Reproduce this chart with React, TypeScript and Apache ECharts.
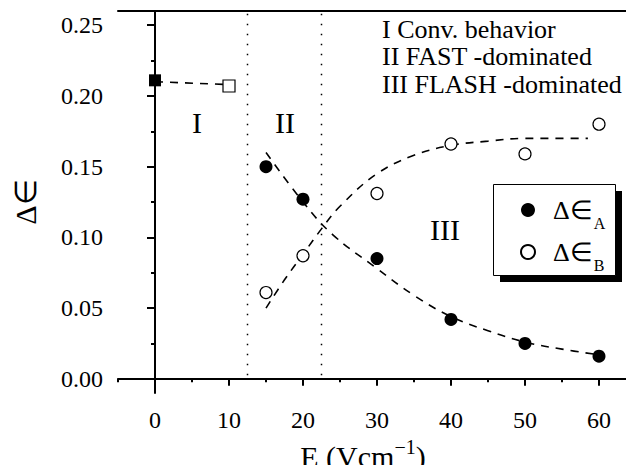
import React, { useEffect, useRef } from "react";
import * as echarts from "echarts";

// ---- data ----
const squareFilled = [[0, 0.211]];
const squareOpen = [[10, 0.207]];
const fitIx = [0, 10];
const fitIy = [0.210, 0.208];
const fieldE = [15, 20, 30, 40, 50, 60];
const deltaA = [0.150, 0.127, 0.085, 0.042, 0.025, 0.016];
const deltaB = [0.061, 0.087, 0.131, 0.166, 0.159, 0.180];
const fitAx = [15, 20, 24, 30, 35, 40, 45, 50, 55, 60];
const fitAy = [0.160, 0.125, 0.102, 0.078, 0.059, 0.044, 0.034, 0.026, 0.021, 0.017];
const fitBx = [15, 17.5, 20, 22.5, 25, 30, 35, 40, 45, 50, 58.5];
const fitBy = [0.050, 0.070, 0.088, 0.106, 0.122, 0.145, 0.158, 0.165, 0.168, 0.170, 0.170];
const boundaries = [12.5, 22.5];
const boundaryY = [0.258, -0.003];
const xLabels = [0, 10, 20, 30, 40, 50, 60];
const xMinor = [-5, 5, 15, 25, 35, 45, 55];
const yLabels = [0, 0.05, 0.1, 0.15, 0.2, 0.25];
const yMinor = [0.025, 0.075, 0.125, 0.175, 0.225];
const regionNotes = ["I Conv. behavior", "II FAST -dominated", "III FLASH -dominated"];
const seriesNames = ["Δ∈A", "Δ∈B"];

const FONT = "Liberation Serif";
const X_MIN = -5, X_MAX = 65, Y_MIN = -0.01, Y_MAX = 0.26;

const zip = (xs: number[], ys: number[]) => xs.map((x, i) => [x, ys[i]]);

export default function App() {
  const ref = useRef<HTMLDivElement>(null);
  useEffect(() => {
    document.body.style.margin = "0";
    const chart = echarts.init(ref.current!, undefined, { renderer: "svg" });
    const axisLine = { show: true, lineStyle: { color: "#000", width: 2 } };
    const dashed = { color: "#000", width: 1.6, type: [8, 7] as any };
    const dotted = { color: "#000", width: 1.5, type: [1.5, 8.5] as any };
    const option: any = {
      animation: false,
      backgroundColor: "#fff",
      textStyle: { fontFamily: FONT, color: "#000" },
      grid: { left: 118, top: 11, right: -10, bottom: 72, containLabel: false, outerBoundsMode: "none" },
      xAxis: [
        {
          type: "value", min: X_MIN, max: X_MAX, position: "bottom",
          axisLine, splitLine: { show: false },
          axisTick: { show: true, inside: false, length: 7, lineStyle: { color: "#000", width: 2 }, customValues: xLabels },
          axisLabel: { customValues: xLabels, formatter: (v: number) => String(v), color: "#000", fontFamily: FONT, fontSize: 24, margin: 15 },
          name: "{a|E (Vcm}{s|−1}{a|)}", nameLocation: "middle", nameGap: 30,
          nameTextStyle: {
            fontFamily: FONT,
            padding: [0, 28, 0, 0],
            rich: {
              a: { fontFamily: FONT, fontSize: 30, color: "#000" },
              s: { fontFamily: FONT, fontSize: 20, color: "#000", padding: [0, 0, 20, 0] },
            },
          },
        },
        {
          type: "value", min: X_MIN, max: X_MAX, position: "bottom",
          axisLine: { show: false }, splitLine: { show: false },
          axisTick: { show: true, length: 3.5, lineStyle: { color: "#000", width: 2 }, customValues: xMinor },
          axisLabel: { show: false },
        },
        {
          type: "value", min: X_MIN, max: X_MAX, position: "top",
          axisLine, splitLine: { show: false }, axisTick: { show: false }, axisLabel: { show: false },
        },
      ],
      yAxis: [
        {
          type: "value", min: Y_MIN, max: Y_MAX, position: "left",
          axisLine, splitLine: { show: false },
          axisTick: { show: true, length: 8, lineStyle: { color: "#000", width: 2 }, customValues: yLabels },
          axisLabel: { customValues: yLabels, formatter: (v: number) => v.toFixed(2), color: "#000", fontFamily: FONT, fontSize: 24, margin: 15 },
          name: "Δ∈", nameLocation: "middle", nameGap: 78, nameRotate: 90,
          nameTextStyle: { fontFamily: FONT, fontSize: 30, color: "#000" },
        },
        {
          type: "value", min: Y_MIN, max: Y_MAX, position: "left",
          axisLine: { show: false }, splitLine: { show: false },
          axisTick: { show: true, length: 4, lineStyle: { color: "#000", width: 2 }, customValues: yMinor },
          axisLabel: { show: false },
        },
      ],
      legend: {
        orient: "vertical", left: 515, top: 192, padding: 5, itemGap: 8,
        itemWidth: 14, itemHeight: 14, data: seriesNames,
        formatter: (name: string) => `{a|Δ∈}{s|${name.slice(-1)}}`,
        textStyle: {
          fontFamily: FONT,
          rich: {
            a: { fontFamily: FONT, fontSize: 26, color: "#000", padding: [0, 0, 0, 13] },
            s: { fontFamily: FONT, fontSize: 16, color: "#000", padding: [26, 0, 0, 1] },
          },
        },
      },
      graphic: [
        { type: "rect", shape: { x: 500, y: 191, width: 122, height: 91 }, style: { fill: "#000" }, z: 0 },
        { type: "rect", shape: { x: 493.5, y: 184.5, width: 122, height: 91 }, style: { fill: "#fff", stroke: "#000", lineWidth: 1 }, z: 1 },
        { type: "text", x: 197, y: 122, style: { text: "I", font: `30px ${FONT}`, fill: "#000", align: "center", verticalAlign: "middle" } },
        { type: "text", x: 285, y: 122, style: { text: "II", font: `30px ${FONT}`, fill: "#000", align: "center", verticalAlign: "middle" } },
        { type: "text", x: 445, y: 229, style: { text: "III", font: `30px ${FONT}`, fill: "#000", align: "center", verticalAlign: "middle" } },
        ...regionNotes.map((t, i) => ({
          type: "text", x: 382, y: 29 + i * 27.5,
          style: { text: t, font: `26px ${FONT}`, fill: "#000", align: "left", verticalAlign: "middle" },
        })),
      ],
      series: [
        ...boundaries.map((b) => ({
          type: "line", data: boundaryY.map((y) => [b, y]), symbol: "none", silent: true,
          lineStyle: dotted, z: 1,
        })),
        { type: "line", data: zip(fitIx, fitIy), symbol: "none", lineStyle: dashed, z: 1 },
        { type: "line", data: zip(fitAx, fitAy), symbol: "none", smooth: 0.4, lineStyle: dashed, z: 1 },
        { type: "line", data: zip(fitBx, fitBy), symbol: "none", smooth: 0.4, lineStyle: dashed, z: 1 },
        { type: "scatter", data: squareFilled, symbol: "rect", symbolSize: 12, itemStyle: { color: "#000", opacity: 1 }, z: 3 },
        { type: "scatter", data: squareOpen, symbol: "rect", symbolSize: 12, itemStyle: { color: "#fff", borderColor: "#000", borderWidth: 1.2, opacity: 1 }, z: 3 },
        { name: seriesNames[0], type: "scatter", data: zip(fieldE, deltaA), symbol: "circle", symbolSize: 13, itemStyle: { color: "#000", opacity: 1 }, z: 3 },
        { name: seriesNames[1], type: "scatter", data: zip(fieldE, deltaB), symbol: "circle", symbolSize: 12, itemStyle: { color: "#fff", borderColor: "#000", borderWidth: 1.2, opacity: 1 }, z: 3 },
      ],
    };
    chart.setOption(option);
    return () => chart.dispose();
  }, []);
  return <div ref={ref} style={{ position: "absolute", left: 0, top: 0, width: 626, height: 465 }} />;
}
